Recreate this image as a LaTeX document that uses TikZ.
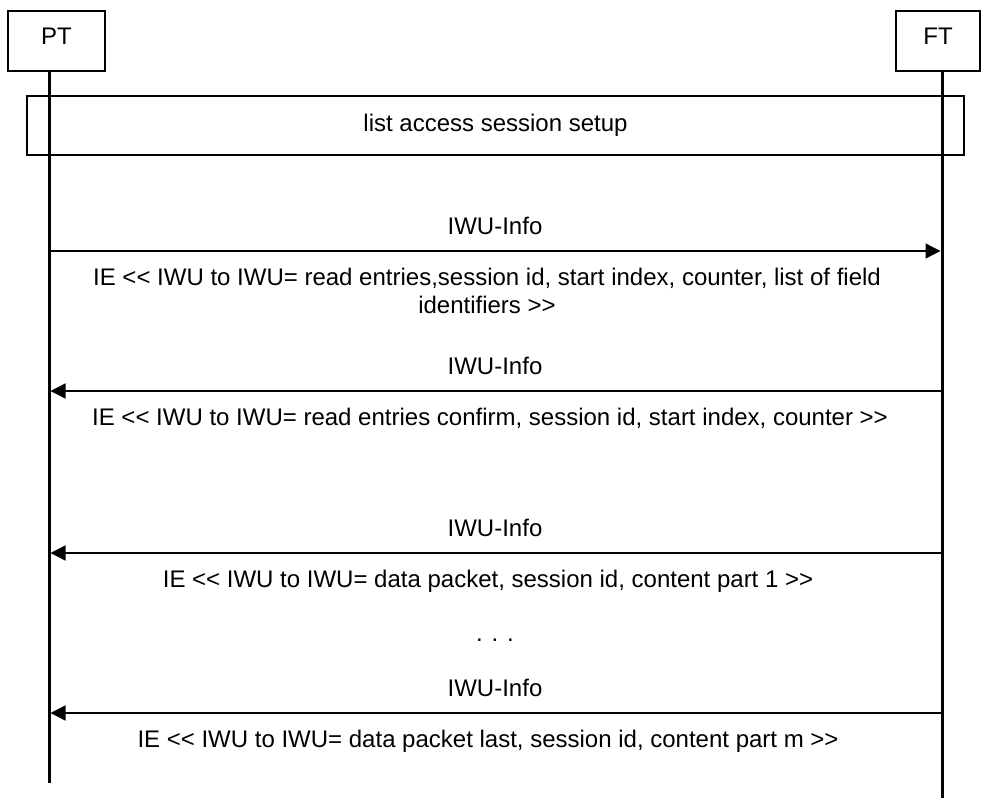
\documentclass[tikz,border=0pt]{standalone}
\usepackage{fontspec}
\setmainfont{Liberation Sans}
\usetikzlibrary{arrows.meta,positioning}

\begin{document}
\begin{tikzpicture}[x=0.5pt,y=-0.5pt,
  every node/.style={font=\fontsize{12}{14}\selectfont,align=center,inner sep=0pt},
  entity/.style={draw,line width=0.65pt,minimum height=30pt,text height=9pt,text depth=6pt},
  phase/.style={draw,line width=0.65pt,minimum width=468.5pt,minimum height=29.5pt},
  life/.style={line width=1.5pt},
  msg/.style={-{Triangle[length=7.5pt,width=7.5pt]},line width=0.65pt,shorten >=0.75pt}]
\useasboundingbox (0,0) rectangle (981,798);
\node[entity,minimum width=48.5pt] (pt) at (56.5,41) {PT};
\node[entity,minimum width=42pt] (ft) at (938,41) {FT};
\coordinate (pttop) at (49,71);
\coordinate (ptend) at (49,783);
\coordinate (fttop) at (942,71);
\coordinate (ftend) at (942,798);
\draw[life] (pttop) -- (ptend);
\draw[life] (fttop) -- (ftend);
\node[phase] (setup) at (495.5,125.5) {list access session setup};
% messages
\coordinate (pt1) at (49,251);  \coordinate (ft1) at (942,251);
\coordinate (pt2) at (49,391);  \coordinate (ft2) at (942,391);
\coordinate (pt3) at (49,553);  \coordinate (ft3) at (942,553);
\coordinate (pt4) at (49,713);  \coordinate (ft4) at (942,713);
\draw[msg] (pt1) -- (ft1);
\draw[msg] (ft2) -- (pt2);
\draw[msg] (ft3) -- (pt3);
\draw[msg] (ft4) -- (pt4);
\node[anchor=base] (l1) at (495,234) {IWU-Info};
\node[anchor=base] (t1) at (487,313) {IE {<}{<} IWU to IWU= read entries,session id, start index, counter, list of field\\identifiers {>}{>}};
\node[anchor=base] (l2) at (495,374) {IWU-Info};
\node[anchor=base] (t2) at (490,425) {IE {<}{<} IWU to IWU= read entries confirm, session id, start index, counter {>}{>}};
\node[anchor=base] (l3) at (495,536) {IWU-Info};
\node[anchor=base] (t3) at (488,587) {IE {<}{<} IWU to IWU= data packet, session id, content part 1 {>}{>}};
\node[anchor=base] (dots) at (495,641) {. . .};
\node[anchor=base] (l4) at (495,696) {IWU-Info};
\node[anchor=base] (t4) at (488,747) {IE {<}{<} IWU to IWU= data packet last, session id, content part m {>}{>}};
\end{tikzpicture}
\end{document}
